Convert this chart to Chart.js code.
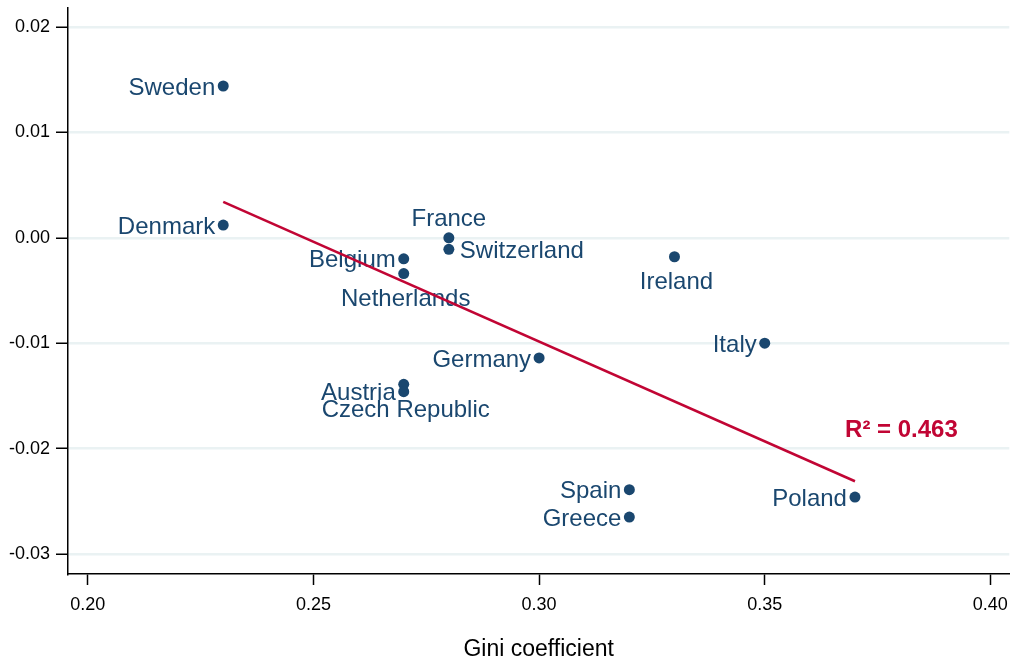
<!DOCTYPE html>
<html lang="en">
<head>
<meta charset="UTF-8">
<title>Gini coefficient scatter</title>
<style>
    html, body { margin: 0; padding: 0; background: #fff; }
    #chart-container { width: 1017px; height: 664px; }
</style>
</head>
<body>
<div id="chart-container"><canvas id="myChart" width="1017" height="664"></canvas></div>

<script src="https://cdn.jsdelivr.net/npm/chart.js"></script>
<script>
    // Countries and values
    var countries = ["Sweden", "Denmark", "France", "Switzerland", "Belgium", "Netherlands", "Ireland",
                     "Italy", "Germany", "Czech Republic", "Austria", "Spain", "Greece", "Poland"];
    var gini = [0.23, 0.23, 0.28, 0.28, 0.27, 0.27, 0.33, 0.35, 0.30, 0.27, 0.27, 0.32, 0.32, 0.37];
    var yValues = [0.0144, 0.0012, 0.0000, -0.0011, -0.0020, -0.0034, -0.0018,
                   -0.0100, -0.0114, -0.0139, -0.0146, -0.0239, -0.0265, -0.0246];
    // which side of the point each label sits on
    var labelPos = ["left", "left", "above", "right", "left", "below", "below",
                    "left", "left", "below", "left", "left", "left", "left"];

    // Fitted line
    var fitX = [0.23, 0.37];
    var fitY = [0.0034, -0.0231];
    var rSquared = "R\u00b2 = 0.463";

    // Ticks
    var xTicks = [0.20, 0.25, 0.30, 0.35, 0.40];
    var yTicks = [-0.03, -0.02, -0.01, 0.00, 0.01, 0.02];

    var FONT = '"Liberation Sans", Arial, sans-serif';
    var NAVY = '#1a476f';
    var RED = '#c10534';

    // Country names and R² text
    var pointLabels = {
        id: 'pointLabels',
        beforeDatasetsDraw: function(chart) {
            var ctx = chart.ctx;
            var meta = chart.getDatasetMeta(0);
            ctx.save();
            ctx.font = '24px ' + FONT;
            ctx.fillStyle = NAVY;
            ctx.textBaseline = 'middle';
            meta.data.forEach(function(pt, i) {
                var x = pt.x, y = pt.y;
                var pos = labelPos[i];
                if (pos == 'left') { ctx.textAlign = 'right'; x -= 8; y += 2; }
                else if (pos == 'right') { ctx.textAlign = 'left'; x += 11; y += 2; }
                else if (pos == 'above') { ctx.textAlign = 'center'; y -= 18; }
                else { ctx.textAlign = 'center'; x += 2; y += 26; }
                ctx.fillText(countries[i], x, y);
            });
            ctx.font = 'bold 24px ' + FONT;
            ctx.fillStyle = RED;
            ctx.textAlign = 'center';
            ctx.fillText(rSquared, chart.scales.x.getPixelForValue(0.3803), chart.scales.y.getPixelForValue(-0.0183));
            ctx.restore();
        }
    };

    var ctx = document.getElementById('myChart').getContext('2d');
    var myChart = new Chart(ctx, {
        type: 'scatter',
        data: {
            datasets: [
                // countries
                {
                    data: gini.map(function(g, i) { return {x: g, y: yValues[i]}; }),
                    backgroundColor: NAVY,
                    borderColor: NAVY,
                    pointRadius: 5.5,
                    pointBorderWidth: 0
                },
                // fitted line
                {
                    type: 'line',
                    data: fitX.map(function(v, i) { return {x: v, y: fitY[i]}; }),
                    borderColor: RED,
                    borderWidth: 2.5,
                    pointRadius: 0,
                    fill: false
                }
            ]
        },
        options: {
            responsive: false,
            animation: false,
            layout: { padding: { top: 8, right: 7, left: 0, bottom: 0 } },
            plugins: {
                legend: { display: false },
                tooltip: { enabled: false }
            },
            scales: {
                x: {
                    type: 'linear',
                    min: 0.1956,
                    max: 0.4042,
                    afterBuildTicks: function(scale) {
                        scale.ticks = xTicks.map(function(v) { return {value: v}; });
                    },
                    afterFit: function(scale) { scale.height = 90; },
                    ticks: {
                        color: '#000',
                        font: { family: FONT, size: 18 },
                        padding: 9,
                        maxRotation: 0,
                        callback: function(v) { return v.toFixed(2); }
                    },
                    grid: {
                        drawOnChartArea: false,
                        tickLength: 11,
                        tickColor: '#000',
                        tickWidth: 1.5
                    },
                    border: { color: '#000', width: 1.5 },
                    title: {
                        display: true,
                        text: 'Gini coefficient',
                        color: '#000',
                        font: { family: FONT, size: 23 },
                        padding: { top: 0, bottom: 1 }
                    }
                },
                y: {
                    min: -0.0319,
                    max: 0.0218,
                    afterBuildTicks: function(scale) {
                        scale.ticks = yTicks.map(function(v) { return {value: v}; });
                    },
                    afterFit: function(scale) {
                        scale.width = 68;
                        scale.paddingTop = 0;
                        scale.paddingBottom = 0;
                    },
                    ticks: {
                        color: '#000',
                        font: { family: FONT, size: 18 },
                        padding: 6,
                        callback: function(v) { return v.toFixed(2); }
                    },
                    grid: {
                        color: '#eaf2f3',
                        lineWidth: 2.5,
                        tickLength: 12,
                        tickColor: '#000',
                        tickWidth: 1.5
                    },
                    border: { color: '#000', width: 1.5 }
                }
            }
        },
        plugins: [pointLabels]
    });
</script>
</body>
</html>
